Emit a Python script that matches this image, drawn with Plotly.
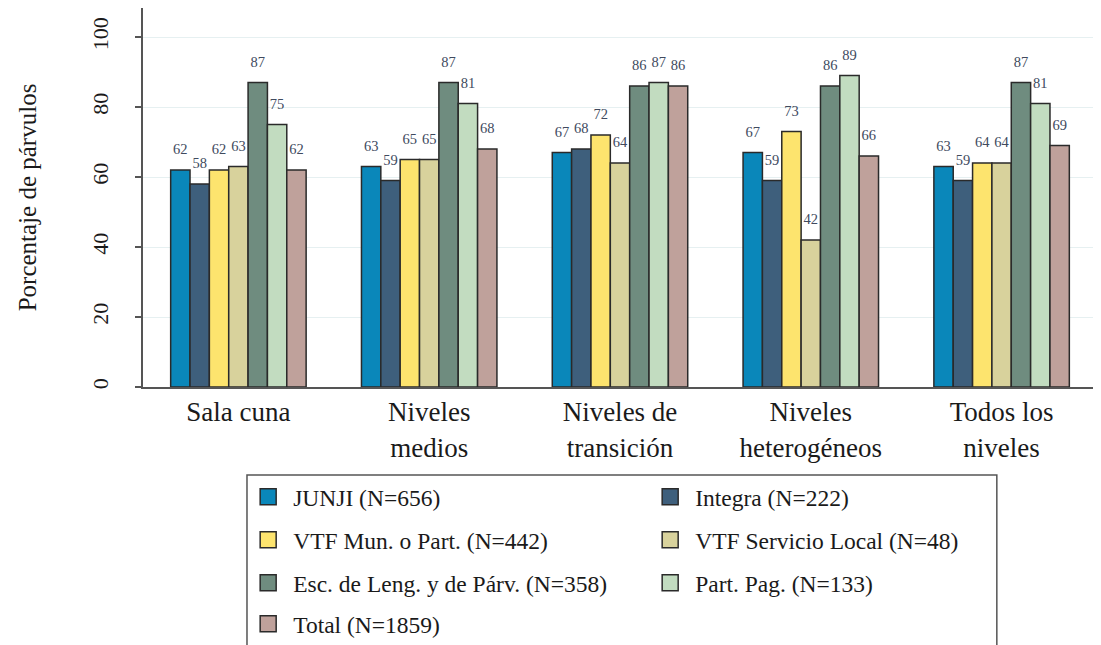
import plotly.graph_objects as go

categories = ["Sala cuna", "Niveles<br>medios", "Niveles de<br>transición",
              "Niveles<br>heterogéneos", "Todos los<br>niveles"]

series_names = ["JUNJI (N=656)", "Integra (N=222)", "VTF Mun. o Part. (N=442)",
                "VTF Servicio Local (N=48)", "Esc. de Leng. y de Párv. (N=358)",
                "Part. Pag. (N=133)", "Total (N=1859)"]

junji = [62, 63, 67, 67, 63]
integra = [58, 59, 68, 59, 59]
vtf_mun = [62, 65, 72, 73, 64]
vtf_sl = [63, 65, 64, 42, 64]
esc_leng = [87, 87, 86, 86, 87]
part_pag = [75, 81, 87, 89, 81]
total = [62, 68, 86, 66, 69]

series_values = [junji, integra, vtf_mun, vtf_sl, esc_leng, part_pag, total]
colors = ["#0a87ba", "#3e5f7c", "#fde46e", "#d8d29c", "#6f8c7f", "#c2dcc0", "#bfa19b"]
legend_ids = ["legend", "legend", "legend2", "legend2", "legend3", "legend3", "legend4"]

y_ticks = [0, 20, 40, 60, 80, 100]

serif = "Liberation Serif"
GAP = 0.29
EDGE = "#2a2a2a"

fig = go.Figure()
for i, (name, vals, col) in enumerate(zip(series_names, series_values, colors)):
    fig.add_trace(go.Bar(
        x=categories, y=vals, name=name, showlegend=False,
        offsetgroup=str(i), legendgroup=str(i),
        marker=dict(color=col, line=dict(color=EDGE, width=1.5)),
        hoverinfo="x+y",
    ))
# value labels, grouped like the bars
for i, (name, vals) in enumerate(zip(series_names, series_values)):
    fig.add_trace(go.Scatter(
        x=categories, y=vals, mode="markers+text", offsetgroup=str(i),
        marker=dict(size=18, opacity=0),
        text=[str(v) for v in vals], textposition="top center",
        textfont=dict(family=serif, size=14.5, color="#404a5e"),
        showlegend=False, cliponaxis=False, hoverinfo="skip",
    ))
# legend keys (larger square swatches than the default bar key)
for i, (name, col, lg) in enumerate(zip(series_names, colors, legend_ids)):
    fig.add_trace(go.Scatter(
        x=[None], y=[None], mode="markers", name=name, legend=lg, legendgroup=str(i),
        marker=dict(symbol="square", size=16, color=col, line=dict(color=EDGE, width=1.5)),
        showlegend=True, hoverinfo="skip",
    ))

# the page adds an 8px body margin; plot area on page: x 143..1097, y 8..387
legend_font = dict(family=serif, size=23.5, color="#1a1a1a")
leg_common = dict(orientation="h", x=0.105, xanchor="left", yanchor="middle",
                  entrywidth=347, entrywidthmode="pixels", itemwidth=40,
                  bgcolor="rgba(0,0,0,0)", borderwidth=0, itemsizing="trace",
                  font=legend_font, traceorder="normal")

fig.update_layout(
    template="none",
    width=1101, height=645,
    paper_bgcolor="white", plot_bgcolor="white",
    margin=dict(l=135, r=12, t=0, b=266, autoexpand=False),
    barmode="group", bargap=GAP, bargroupgap=0,
    scattermode="group", scattergap=GAP,
    font=dict(family=serif, color="#1a1a1a"),
    showlegend=True,
    legend=dict(y=-0.2902, **leg_common),
    legend2=dict(y=-0.4037, **leg_common),
    legend3=dict(y=-0.5172, **leg_common),
    legend4=dict(y=-0.6253, **leg_common),
    shapes=[dict(type="rect", xref="paper", yref="paper",
                 x0=0.109, x1=0.895, y0=-0.2322, y1=-0.75,
                 line=dict(color="#555", width=1.5), fillcolor="rgba(0,0,0,0)",
                 layer="below")],
    xaxis=dict(
        automargin=False,
        showline=True, linecolor="#555", linewidth=2, showgrid=False, zeroline=False,
        ticks="", tickfont=dict(family=serif, size=27, color="#1a1a1a"),
        range=[-0.5, 4.5],
    ),
    yaxis=dict(
        automargin=False,
        range=[0, 108.3], tickvals=y_ticks, ticktext=[str(t) for t in y_ticks],
        tickangle=-90, ticks="outside", ticklen=6, tickcolor="#555", tickwidth=1.5,
        ticklabelstandoff=18,
        tickfont=dict(family=serif, size=22, color="#1a1a1a"),
        showline=True, linecolor="#555", linewidth=2,
        showgrid=True, gridcolor="#e6f0f1", gridwidth=1.2,
        zeroline=False,
        title=dict(text="Porcentaje de párvulos", font=dict(family=serif, size=25, color="#1a1a1a"), standoff=44),
    ),
)

fig.write_html("out.html")
